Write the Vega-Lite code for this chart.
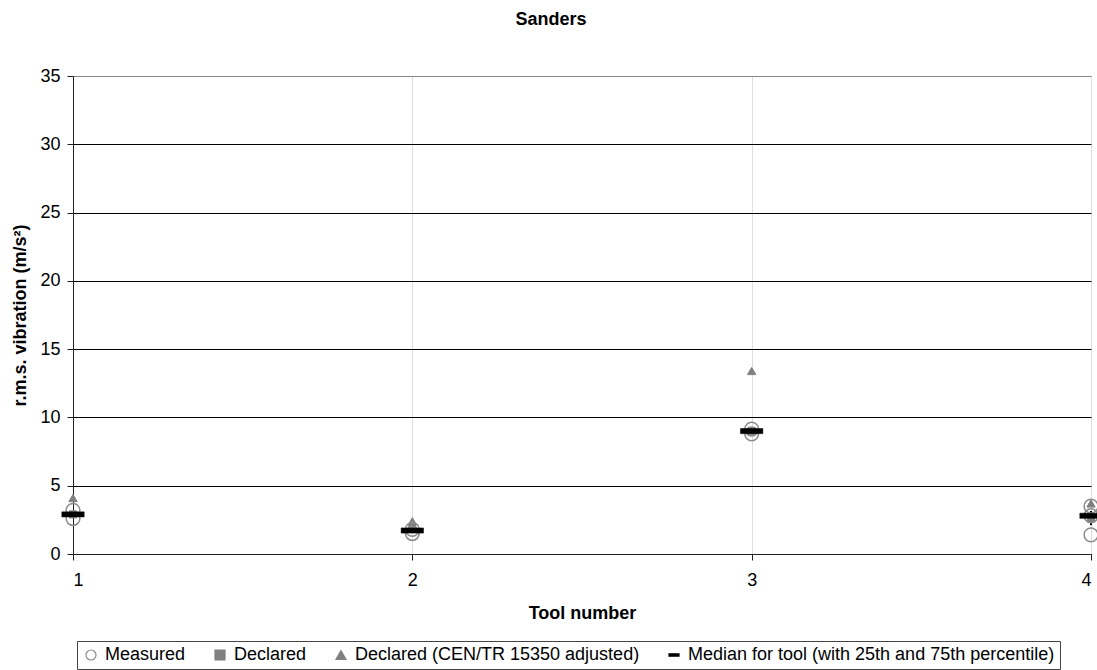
{
  "$schema": "https://vega.github.io/schema/vega-lite/v6.json",
  "width": 1018,
  "height": 478,
  "autosize": "none",
  "padding": {"left": 73, "top": 76, "right": 6, "bottom": 116},
  "background": "white",
  "title": {"text": "Sanders", "font": "Liberation Sans", "fontSize": 18, "fontWeight": "bold", "offset": 38, "dx": -31, "anchor": "middle", "color": "black"},
  "config": {
    "font": "Liberation Sans",
    "view": {"stroke": "#888888", "strokeWidth": 1},
    "axis": {"labelFont": "Liberation Sans", "titleFont": "Liberation Sans", "labelFontSize": 18, "titleFontSize": 18, "titleFontWeight": "bold", "labelColor": "black", "titleColor": "black", "tickColor": "#222222", "domainColor": "#222222"}
  },
  "data": {
    "values": [
      {"tool": 1, "series": "Measured", "value": 2.6},
      {"tool": 1, "series": "Measured", "value": 3.2},
      {"tool": 1, "series": "Declared", "value": 2.9},
      {"tool": 1, "series": "Declared (CEN/TR 15350 adjusted)", "value": 4.1},
      {"tool": 2, "series": "Measured", "value": 1.5},
      {"tool": 2, "series": "Measured", "value": 1.8},
      {"tool": 2, "series": "Declared", "value": 2.0},
      {"tool": 2, "series": "Declared (CEN/TR 15350 adjusted)", "value": 2.4},
      {"tool": 3, "series": "Measured", "value": 9.15},
      {"tool": 3, "series": "Measured", "value": 8.8},
      {"tool": 3, "series": "Declared", "value": 9.0},
      {"tool": 3, "series": "Declared (CEN/TR 15350 adjusted)", "value": 13.4},
      {"tool": 4, "series": "Measured", "value": 3.5},
      {"tool": 4, "series": "Measured", "value": 2.8},
      {"tool": 4, "series": "Measured", "value": 1.4},
      {"tool": 4, "series": "Declared", "value": 2.6},
      {"tool": 4, "series": "Declared (CEN/TR 15350 adjusted)", "value": 3.7},
      {"tool": 1, "series": "Median for tool (with 25th and 75th percentile)", "value": 2.9, "lo": 2.75, "hi": 3.05},
      {"tool": 2, "series": "Median for tool (with 25th and 75th percentile)", "value": 1.72, "lo": 1.6, "hi": 1.8},
      {"tool": 3, "series": "Median for tool (with 25th and 75th percentile)", "value": 9.0, "lo": 8.9, "hi": 9.1},
      {"tool": 4, "series": "Median for tool (with 25th and 75th percentile)", "value": 2.8, "lo": 2.1, "hi": 3.15}
    ]
  },
  "layer": [
    {
      "transform": [{"filter": "datum.lo != null"}],
      "mark": {"type": "rule", "color": "black", "strokeWidth": 2},
      "encoding": {
        "x": {"field": "tool", "type": "quantitative", "scale": {"domain": [1, 4], "nice": false, "zero": false}},
        "y": {"field": "lo", "type": "quantitative", "scale": {"domain": [0, 35], "nice": false}},
        "y2": {"field": "hi"}
      }
    },
    {
      "encoding": {
        "x": {"field": "tool", "type": "quantitative", "scale": {"domain": [1, 4], "nice": false, "zero": false},
          "axis": {"values": [1, 2, 3, 4], "title": "Tool number", "grid": true, "gridColor": "#dddddd", "tickSize": 6, "labelPadding": 11, "titlePadding": 15, "format": "d", "domain": true}},
        "y": {"field": "value", "type": "quantitative", "scale": {"domain": [0, 35], "nice": false},
          "axis": {"values": [0, 5, 10, 15, 20, 25, 30, 35], "title": "r.m.s. vibration (m/s²)", "grid": true,
            "gridColor": {"condition": {"test": "datum.value == 35", "value": "#888888"}, "value": "black"},
            "gridOpacity": 1, "tickSize": 6, "labelPadding": 7, "titlePadding": 10}},
        "shape": {"field": "series", "type": "nominal", "title": null,
          "scale": {"domain": ["Measured", "Declared", "Declared (CEN/TR 15350 adjusted)", "Median for tool (with 25th and 75th percentile)"],
            "range": ["circle", "square", "triangle-up", "M-1,-0.23H1V0.23H-1Z"]},
          "legend": {"orient": "none", "legendX": 4, "legendY": 565, "direction": "horizontal", "strokeColor": "#444444", "fillColor": "white", "padding": 5, "labelFontSize": 18, "labelFont": "Liberation Sans", "labelColor": "black", "symbolStrokeWidth": 1.2, "columnPadding": 25, "labelOffset": 5, "labelLimit": 0,
            "encode": {"symbols": {"update": {"size": {"signal": "datum.value === 'Measured' ? 130 : datum.value === 'Declared' ? 60 : datum.value === 'Declared (CEN/TR 15350 adjusted)' ? 50 : 115"}}}}}},
        "fill": {"field": "series", "type": "nominal", "title": null,
          "scale": {"domain": ["Measured", "Declared", "Declared (CEN/TR 15350 adjusted)", "Median for tool (with 25th and 75th percentile)"],
            "range": ["transparent", "#808080", "#808080", "black"]}},
        "stroke": {"field": "series", "type": "nominal", "title": null,
          "scale": {"domain": ["Measured", "Declared", "Declared (CEN/TR 15350 adjusted)", "Median for tool (with 25th and 75th percentile)"],
            "range": ["#8c8c8c", "#808080", "#808080", "black"]}}
      },
      "layer": [
        {"transform": [{"filter": "datum.series == 'Declared'"}], "mark": {"type": "point", "opacity": 1, "strokeWidth": 1, "size": 50}},
        {"transform": [{"filter": "datum.series == 'Declared (CEN/TR 15350 adjusted)'"}], "mark": {"type": "point", "opacity": 1, "strokeWidth": 1, "size": 70}},
        {"transform": [{"filter": "datum.series == 'Measured'"}], "mark": {"type": "point", "opacity": 1, "strokeWidth": 1.5, "size": 190}},
        {"transform": [{"filter": "datum.series == 'Median for tool (with 25th and 75th percentile)'"}], "mark": {"type": "point", "opacity": 1, "strokeWidth": 0.5, "size": 500}}
      ]
    }
  ]
}
